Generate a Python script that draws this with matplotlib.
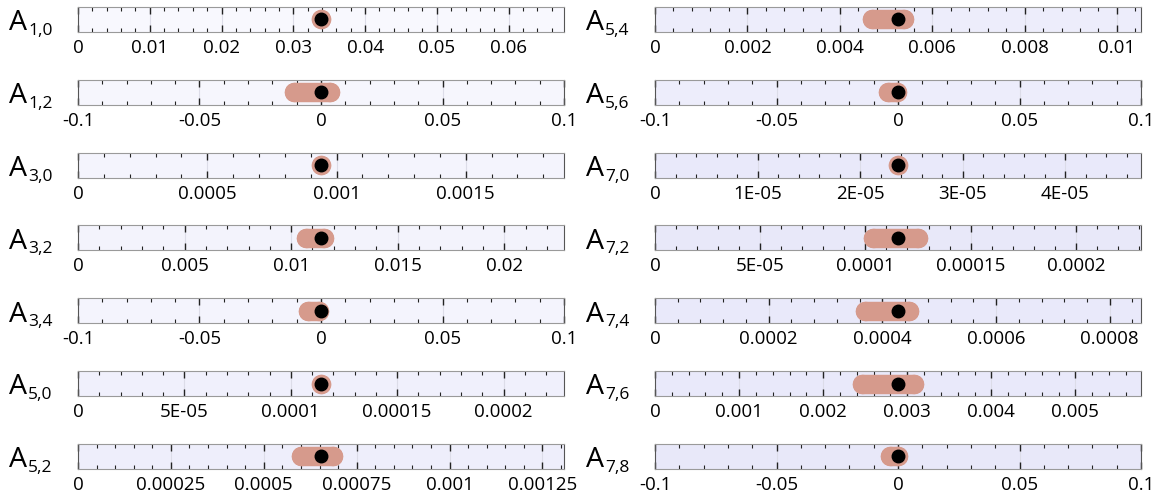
import matplotlib
matplotlib.use('Agg')
import matplotlib.pyplot as plt
from matplotlib.ticker import MultipleLocator, FuncFormatter

plt.rcParams['font.family'] = ['Open Sans', 'DejaVu Sans']

# coefficient labels (left column top to bottom, then right column)
names = ['1,0', '1,2', '3,0', '3,2', '3,4', '5,0', '5,2',
         '5,4', '5,6', '7,0', '7,2', '7,4', '7,6', '7,8']
# point estimates
values = [0.03386, 0.0, 0.00094, 0.0114, 0.0, 0.0001142, 0.000654,
          0.00526, 0.0, 2.37e-05, 0.0001155, 0.0004275, 0.00289, 0.0]
# interval ends
lows = [0.03380, -0.0112, 0.00094, 0.0107, -0.0054, 0.0001142, 0.000601,
        0.00469, -0.0042, 2.37e-05, 0.0001038, 0.000370, 0.00246, -0.0034]
highs = [0.03390, 0.0036, 0.00094, 0.01155, -0.0007, 0.0001142, 0.000686,
         0.0054, -0.0004, 2.37e-05, 0.0001252, 0.000446, 0.00308, -0.0001]
# spacing of the labelled ticks
tick_steps = [0.01, 0.05, 0.0005, 0.005, 0.05, 5e-05, 0.00025,
              0.002, 0.05, 1e-05, 5e-05, 0.0002, 0.001, 0.05]

# panel background shades
faces = ['#f8f8fe', '#f6f6fd', '#f4f4fd', '#f3f3fc', '#f4f4fd', '#f0f0fc', '#eeeefb',
         '#ededfb', '#ededfb', '#e9e9fa', '#e8e8f9', '#e9e9fa', '#e9e9fa', '#e8e8f9']

W, H = 1165, 499
fig = plt.figure(figsize=(W / 100, H / 100), dpi=100)


def fmt(v, pos):
    if abs(v) < 1e-12:
        return '0'
    return ('%g' % v).upper()


for i, name in enumerate(names):
    col, row = divmod(i, 7)
    left = [78, 655][col]
    top = 7 + 72.8 * row
    ax = fig.add_axes([left / W, 1 - (top + 25) / H, 486 / W, 25 / H])
    ax.set_facecolor(faces[i])

    v = values[i]
    if v == 0:
        ax.set_xlim(-0.1, 0.1)
    else:
        ax.set_xlim(0, 2 * v)
    ax.set_ylim(0, 1)

    # interval as a capsule (end markers keep zero-width ones visible)
    ax.plot([lows[i], highs[i]], [0.5, 0.5], color='#d69a8c', lw=14,
            solid_capstyle='round', marker='o', ms=14, mew=0, zorder=3)
    ax.plot([v], [0.5], 'o', color='black', ms=9, zorder=4)

    step = tick_steps[i]
    ax.xaxis.set_major_locator(MultipleLocator(step))
    ax.xaxis.set_minor_locator(MultipleLocator(step / 5))
    ax.xaxis.set_major_formatter(FuncFormatter(fmt))
    ax.grid(axis='x', which='major', color='#dcdce8', lw=0.8, zorder=0)
    ax.set_axisbelow(True)
    ax.set_yticks([])
    ax.tick_params(axis='x', which='both', direction='in', top=True, bottom=True,
                   color='#222222', labelsize=13.5, pad=5)
    ax.tick_params(axis='x', which='major', length=5, width=1)
    ax.tick_params(axis='x', which='minor', length=2.8, width=0.8)
    for s in ['top', 'bottom']:
        ax.spines[s].set_color('#9a9a9a')
    for s in ['left', 'right']:
        ax.spines[s].set_color('#555555')

    # "A" with subscript indices
    lx = [9, 586][col]
    fig.text(lx / W, 1 - (top + 23.3) / H, 'A', fontsize=20.5, va='baseline', ha='left')
    fig.text((lx + 19) / W, 1 - (top + 28) / H, name, fontsize=12.5, va='baseline', ha='left')

fig.savefig('out.png', dpi=100)
